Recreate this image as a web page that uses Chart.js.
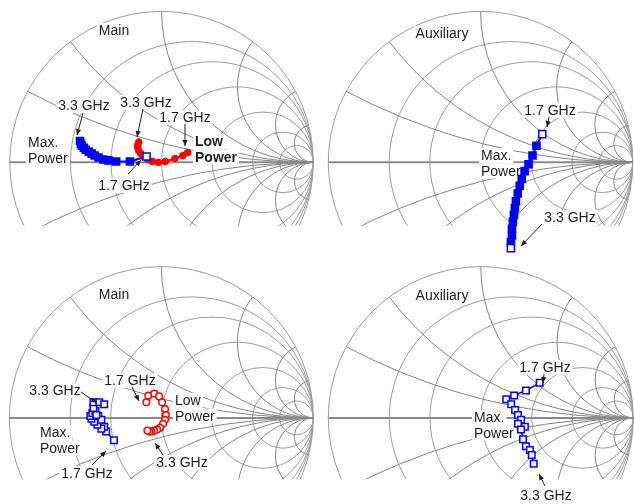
<!DOCTYPE html>
<html><head><meta charset="utf-8">
<script src="https://cdn.jsdelivr.net/npm/chart.js@4/dist/chart.umd.min.js"></script>
<style>
html,body{margin:0;padding:0;background:#fff;}
#wrap{position:relative;width:634px;height:504px;overflow:hidden;background:#fff;}
#wrap canvas{position:absolute;left:0;top:0;}
</style></head>
<body><div id="wrap">
<canvas id="c0" width="634" height="504"></canvas>
<canvas id="c1" width="634" height="504"></canvas>
<canvas id="c2" width="634" height="504"></canvas>
<canvas id="c3" width="634" height="504"></canvas>
</div>
<script>
// ---- Smith chart grid values ----
const R_GRID = [0.25, 0.5, 1, 2, 4, 8];
const X_GRID = [0.25, 0.5, 1, 2, 4, 8];

// ---- Reflection coefficients (Re, Im), ordered 1.7 GHz -> 3.3 GHz ----
// Top-left (Main)
const tlMaxRe = [-0.099, -0.208, -0.299, -0.350, -0.383, -0.415, -0.441, -0.460, -0.479, -0.499, -0.512, -0.525, -0.531, -0.537];
const tlMaxIm = [0.039, 0.006, 0.006, 0.013, 0.019, 0.032, 0.045, 0.058, 0.071, 0.084, 0.097, 0.110, 0.123, 0.142];
const tlLowRe = [0.172, 0.140, 0.088, 0.024, -0.021, -0.060, -0.092, -0.118, -0.137, -0.150, -0.157, -0.157, -0.150];
const tlLowIm = [0.065, 0.045, 0.026, 0.006, 0.000, 0.006, 0.019, 0.039, 0.058, 0.077, 0.097, 0.116, 0.135];
// Top-right (Auxiliary)
const trMaxRe = [0.405, 0.367, 0.341, 0.315, 0.289, 0.270, 0.257, 0.244, 0.232, 0.225, 0.219, 0.212, 0.206, 0.206, 0.199, 0.199];
const trMaxIm = [0.187, 0.110, 0.045, -0.013, -0.058, -0.110, -0.155, -0.206, -0.258, -0.303, -0.348, -0.394, -0.439, -0.484, -0.529, -0.568];
// Bottom-left (Main)
const blMaxRe = [-0.312, -0.363, -0.376, -0.395, -0.421, -0.441, -0.460, -0.467, -0.454, -0.434, -0.415, -0.395, -0.428, -0.447, -0.447, -0.408, -0.376];
const blMaxIm = [-0.148, -0.090, -0.058, -0.071, -0.045, -0.026, -0.006, 0.013, 0.032, 0.045, 0.013, -0.013, 0.019, 0.065, 0.103, 0.103, 0.090];
const blLowRe = [-0.099, -0.086, -0.047, -0.015, 0.005, 0.024, 0.030, 0.024, 0.011, -0.008, -0.028, -0.047, -0.066, -0.079, -0.092];
const blLowIm = [0.103, 0.148, 0.161, 0.142, 0.103, 0.058, 0.019, -0.013, -0.039, -0.065, -0.077, -0.084, -0.090, -0.090, -0.084];
// Bottom-right (Auxiliary)
const brMaxRe = [0.386, 0.296, 0.219, 0.167, 0.199, 0.225, 0.244, 0.264, 0.244, 0.289, 0.264, 0.277, 0.296, 0.322, 0.334, 0.347];
const brMaxIm = [0.232, 0.181, 0.148, 0.123, 0.090, 0.052, 0.019, -0.013, -0.039, -0.058, -0.077, -0.142, -0.187, -0.213, -0.245, -0.303];

const zip = (re, im) => re.map((v, i) => ({x: v, y: im[i]}));
const BLUE = '#0000ff', RED = '#ff0000';
const FONT = '14px "Liberation Sans", Arial, sans-serif';
const FONT_B = 'bold 14px "Liberation Sans", Arial, sans-serif';

function endsOpen(n, fill) { return Array.from({length: n}, (_, i) => (i === 0 || i === n - 1) ? '#ffffff' : fill); }

const PANELS = [
  { id: 'c0', cx: 158.3, cy: 160, rx: 155, ry: 155, clipY: 225,
    datasets: [
      { data: zip(tlMaxRe, tlMaxIm), borderColor: BLUE, borderWidth: 2, pointStyle: 'rect', pointRadius: 5,
        pointBorderWidth: 1.5, pointBorderColor: BLUE, pointBackgroundColor: tlMaxRe.map((_, i) => i === 0 ? '#fff' : BLUE) },
      { data: zip(tlLowRe, tlLowIm), borderColor: RED, borderWidth: 2, pointStyle: 'circle', pointRadius: 3.3,
        pointBorderWidth: 1, pointBorderColor: RED, pointBackgroundColor: RED }
    ],
    labels: [
      { t: ['Main'], x: 114, y: 35, a: 'center' },
      { t: ['3.3 GHz'], x: 84, y: 110, a: 'center' },
      { t: ['3.3 GHz'], x: 146, y: 107, a: 'center' },
      { t: ['1.7 GHz'], x: 185, y: 122, a: 'center' },
      { t: ['Low', 'Power'], x: 195, y: 146, a: 'left', b: true },
      { t: ['Max.', 'Power'], x: 28, y: 147, a: 'left' },
      { t: ['1.7 GHz'], x: 124, y: 190, a: 'center' }
    ],
    arrows: [[83, 113, 77, 135], [143, 109, 137, 137], [185, 124, 185, 146], [128, 174, 141, 160]]
  },
  { id: 'c1', cx: 484, cy: 160, rx: 155.5, ry: 155, clipY: 225,
    datasets: [
      { data: zip(trMaxRe, trMaxIm), borderColor: BLUE, borderWidth: 2, pointStyle: 'rect', pointRadius: 5,
        pointBorderWidth: 1.5, pointBorderColor: BLUE, pointBackgroundColor: endsOpen(trMaxRe.length, BLUE) }
    ],
    labels: [
      { t: ['Auxiliary'], x: 442, y: 38, a: 'center' },
      { t: ['1.7 GHz'], x: 550, y: 115, a: 'center' },
      { t: ['Max.', 'Power'], x: 481, y: 160, a: 'left' },
      { t: ['3.3 GHz'], x: 570, y: 222, a: 'center' }
    ],
    arrows: [[549, 117, 547, 127], [542, 224, 521, 246]]
  },
  { id: 'c2', cx: 158.3, cy: 422, rx: 155, ry: 155, clipY: 485,
    datasets: [
      { data: zip(blMaxRe, blMaxIm), borderColor: BLUE, borderWidth: 1.5, pointStyle: 'rect', pointRadius: 4.6,
        pointBorderWidth: 1.5, pointBorderColor: BLUE, pointBackgroundColor: '#ffffff' },
      { data: zip(blLowRe, blLowIm), borderColor: RED, borderWidth: 1.5, pointStyle: 'circle', pointRadius: 3.3,
        pointBorderWidth: 1.5, pointBorderColor: RED, pointBackgroundColor: '#ffffff' }
    ],
    labels: [
      { t: ['Main'], x: 114, y: 299, a: 'center' },
      { t: ['3.3 GHz'], x: 55, y: 395, a: 'center' },
      { t: ['1.7 GHz'], x: 130, y: 385, a: 'center' },
      { t: ['Low', 'Power'], x: 175, y: 405, a: 'left' },
      { t: ['Max.', 'Power'], x: 40, y: 437, a: 'left' },
      { t: ['1.7 GHz'], x: 87, y: 478, a: 'center' },
      { t: ['3.3 GHz'], x: 182, y: 467, a: 'center' }
    ],
    arrows: [[81, 392, 97, 403], [132, 387, 139, 401], [92, 465, 106, 451], [163, 455, 155, 443]]
  },
  { id: 'c3', cx: 484, cy: 422, rx: 155.5, ry: 155, clipY: 485,
    datasets: [
      { data: zip(brMaxRe, brMaxIm), borderColor: BLUE, borderWidth: 1.5, pointStyle: 'rect', pointRadius: 4.6,
        pointBorderWidth: 1.5, pointBorderColor: BLUE, pointBackgroundColor: '#ffffff' }
    ],
    labels: [
      { t: ['Auxiliary'], x: 442, y: 300, a: 'center' },
      { t: ['1.7 GHz'], x: 545, y: 372, a: 'center' },
      { t: ['Max.', 'Power'], x: 474, y: 422, a: 'left' },
      { t: ['3.3 GHz'], x: 546, y: 500, a: 'center' }
    ],
    arrows: [[544, 374, 543, 383], [545, 486, 539, 474]]
  }
];

function drawArrow(ctx, x1, y1, x2, y2) {
  ctx.beginPath(); ctx.moveTo(x1, y1); ctx.lineTo(x2, y2); ctx.stroke();
  const a = Math.atan2(y2 - y1, x2 - x1), L = 6, W = 2.6;
  ctx.beginPath();
  ctx.moveTo(x2, y2);
  ctx.lineTo(x2 - L * Math.cos(a) + W * Math.sin(a), y2 - L * Math.sin(a) - W * Math.cos(a));
  ctx.lineTo(x2 - L * Math.cos(a) - W * Math.sin(a), y2 - L * Math.sin(a) + W * Math.cos(a));
  ctx.closePath(); ctx.fill();
}

function smithPlugin(P) {
  return {
    id: 'smith_' + P.id,
    beforeDatasetsDraw(chart) {
      const ctx = chart.ctx, xs = chart.scales.x, ys = chart.scales.y;
      const X = v => xs.getPixelForValue(v), Y = v => ys.getPixelForValue(v);
      const sx = X(1) - X(0), sy = Y(0) - Y(1);
      const clipMin = (P.cy - P.clipY) / P.ry;
      ctx.save();
      ctx.beginPath();
      ctx.rect(X(-1.1), Y(1.1), X(1.1) - X(-1.1), Y(clipMin) - Y(1.1));
      ctx.clip();
      ctx.lineWidth = 1;
      ctx.strokeStyle = '#9c9c9c';
      ctx.beginPath(); ctx.ellipse(X(0), Y(0), sx, sy, 0, 0, Math.PI * 2); ctx.stroke();
      ctx.save();
      ctx.beginPath(); ctx.ellipse(X(0), Y(0), sx, sy, 0, 0, Math.PI * 2); ctx.clip();
      ctx.strokeStyle = '#9c9c9c';
      for (const r of R_GRID) {
        const c = r / (1 + r), rad = 1 / (1 + r);
        ctx.beginPath(); ctx.ellipse(X(c), Y(0), rad * sx, rad * sy, 0, 0, Math.PI * 2); ctx.stroke();
      }
      ctx.strokeStyle = '#858585';
      for (const x of X_GRID) {
        for (const s of [1, -1]) {
          ctx.beginPath(); ctx.ellipse(X(1), Y(s / x), sx / x, sy / x, 0, 0, Math.PI * 2); ctx.stroke();
        }
      }
      ctx.restore();
      ctx.strokeStyle = '#8a8a8a'; ctx.lineWidth = 2;
      ctx.beginPath(); ctx.moveTo(X(-1), Y(0)); ctx.lineTo(X(1), Y(0)); ctx.stroke();
      ctx.restore();
      ctx.save();
      ctx.textBaseline = 'alphabetic';
      for (const L of P.labels) {
        ctx.font = L.b ? FONT_B : FONT;
        L.t.forEach((line, i) => {
          const w = ctx.measureText(line).width;
          const y = L.y + i * 15.5;
          const left = L.a === 'center' ? L.x - w / 2 : L.x;
          ctx.fillStyle = '#ffffff';
          ctx.fillRect(left - 2, y - 12, w + 4, 15);
        });
        ctx.fillStyle = '#1e1e1e';
        ctx.textAlign = L.a;
        L.t.forEach((line, i) => ctx.fillText(line, L.x, L.y + i * 15.5));
      }
      ctx.restore();
    },
    afterDatasetsDraw(chart) {
      const ctx = chart.ctx;
      ctx.save();
      ctx.strokeStyle = '#1e1e1e'; ctx.fillStyle = '#1e1e1e'; ctx.lineWidth = 1;
      for (const a of P.arrows) drawArrow(ctx, a[0], a[1], a[2], a[3]);
      ctx.restore();
    }
  };
}

for (const P of PANELS) {
  const W = 634, H = 504;
  new Chart(document.getElementById(P.id), {
    type: 'scatter',
    data: { datasets: P.datasets.map(d => Object.assign({ showLine: true, fill: false, tension: 0 }, d)) },
    options: {
      responsive: false, animation: false, events: [],
      layout: { padding: 0 },
      scales: {
        x: { type: 'linear', display: false, min: (0 - P.cx) / P.rx, max: (W - P.cx) / P.rx },
        y: { type: 'linear', display: false, min: (P.cy - H) / P.ry, max: P.cy / P.ry }
      },
      plugins: { legend: { display: false }, tooltip: { enabled: false } }
    },
    plugins: [smithPlugin(P)]
  });
}
</script>
</body></html>
